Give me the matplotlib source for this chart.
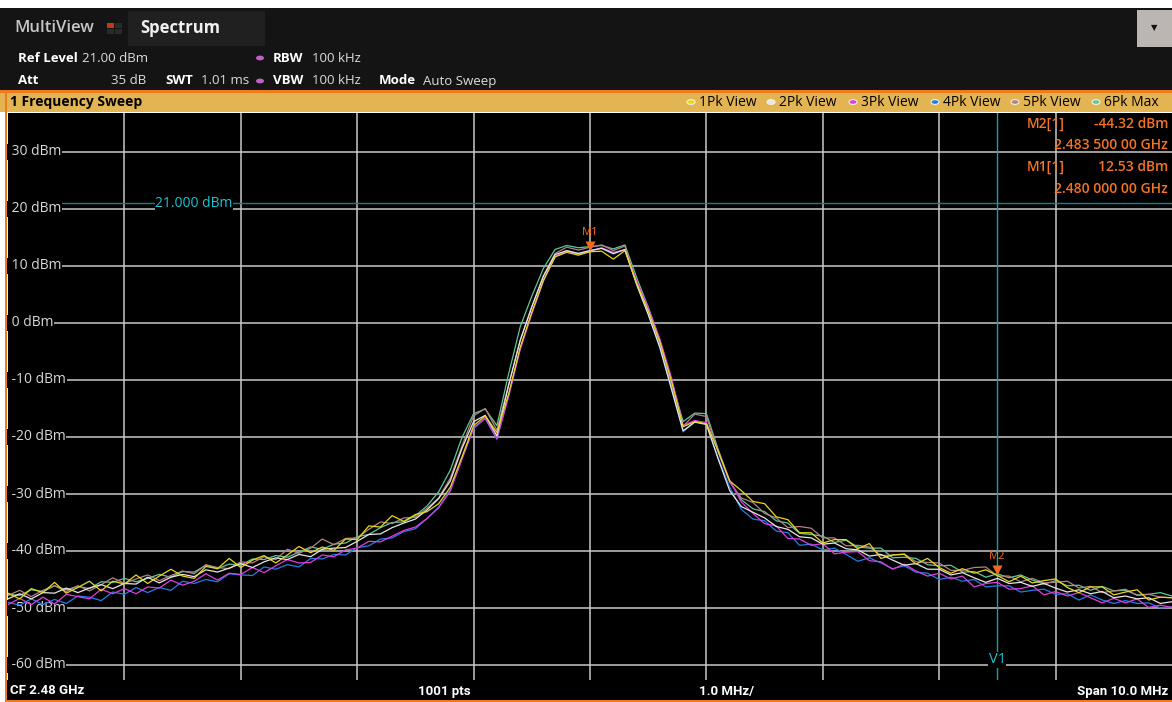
import numpy as np
import matplotlib
matplotlib.use("Agg")
import matplotlib.pyplot as plt
from matplotlib.patches import Rectangle, Circle

# --- data (0.1 MHz steps, 2.475 .. 2.485 GHz) ---
base_dbm = [
    -48.2, -48.0, -47.8, -47.6, -47.4, -47.2, -47.0, -46.7, -46.5, -46.2,
    -46.0, -45.7, -45.4, -45.1, -44.8, -44.5, -44.2, -43.8, -43.5, -43.1,
    -42.8, -42.5, -42.1, -41.7, -41.3, -40.9, -40.5, -40.1, -39.6, -39.1,
    -38.5, -37.7, -36.8, -36.2, -35.6, -34.8, -33.4, -31.2, -28.0, -22.5,
    -17.5, -16.0, -19.8, -11.5, -3.5, 2.5, 8.0, 12.0, 13.0, 12.4,
    12.8, 13.1, 12.0, 13.0, 6.8, 1.8, -3.8, -11.0, -18.5, -16.9,
    -17.2, -23.0, -28.5, -31.6, -32.8, -34.0, -35.2, -36.3, -37.2, -37.9,
    -38.4, -38.9, -39.4, -39.9, -40.4, -41.0, -41.5, -41.9, -42.4, -42.9,
    -43.3, -43.7, -44.1, -44.5, -44.8, -45.0, -45.3, -45.6, -45.9, -46.1,
    -46.3, -46.6, -46.9, -47.1, -47.4, -47.7, -47.9, -48.1, -48.4, -48.6,
    -48.8]

dev_1pk = [
    0.8, -0.4, 1.2, 0.3, 1.9, -0.2, 0.6, 1.4, -0.5, 0.9,
    0.2, 1.5, -0.3, 0.7, 1.6, 0.1, -0.6, 1.1, 0.4, 1.8,
    -0.1, 0.9, 1.3, -0.4, 0.6, 1.7, 0.2, 0.8, -0.3, 1.2,
    0.5, 2.1, 1.0, 2.4, 0.8, 1.2, 0.3, -0.5, -0.8, -1.0,
    -0.5, -0.3, 0.6, -1.0, -0.8, -0.6, -0.5, -0.4, -0.6, -0.5,
    -0.3, -0.5, -0.8, -0.3, 0.2, 0.4, 0.5, 0.8, 0.3, -0.4,
    -0.5, 0.6, 0.8, 2.2, 1.5, 2.3, 1.2, 1.8, 0.4, 1.1,
    -0.2, 0.9, 1.4, 0.3, 1.7, -0.3, 0.8, 1.3, 0.1, 1.6,
    0.4, -0.2, 1.0, 0.6, 1.5, 0.7, -0.1, 1.2, 0.3, 0.9,
    1.4, 0.2, -0.4, 0.8, 1.1, 0.0, 0.7, 1.3, -0.2, 0.5,
    0.6]
dev_2pk = [
    -0.2, 0.5, -0.6, 0.3, 0.0, 0.7, -0.3, 0.2, 0.6, -0.4,
    0.3, -0.1, 0.8, -0.5, 0.2, 0.4, -0.3, 0.5, -0.2, 0.1,
    0.6, -0.4, 0.2, 0.5, -0.2, 0.3, -0.5, 0.4, 0.1, -0.3,
    0.2, 0.6, -0.2, 0.3, 0.5, 0.4, 0.6, 0.4, 0.3, 0.5,
    0.2, -0.2, 0.0, 0.5, 0.4, 0.3, 0.2, 0.0, -0.3, -0.2,
    -0.1, 0.0, 0.2, -0.1, 0.0, -0.3, -0.5, -0.6, -0.4, -0.5,
    -0.6, -0.8, -0.9, -0.6, -0.4, -0.2, -0.5, 0.1, -0.3, 0.2,
    -0.4, 0.3, -0.2, 0.1, -0.5, 0.4, -0.1, -0.6, 0.2, -0.3,
    0.1, -0.5, 0.3, -0.2, -0.7, 0.2, -0.4, 0.1, -0.3, 0.4,
    -0.2, -0.6, 0.1, -0.4, 0.3, -0.5, 0.0, -0.3, 0.2, -0.6,
    -0.1]
dev_3pk = [
    -1.2, -0.3, -1.6, -0.5, -1.9, -0.4, -1.0, -1.7, -0.2, -1.3,
    -0.6, -1.8, -0.9, -1.4, -0.3, -1.5, -1.1, -0.2, -1.6, -0.8,
    -1.3, -0.4, -1.7, -0.9, -0.2, -1.2, -1.5, -0.6, -1.4, -0.7,
    -1.0, -0.6, -1.6, -1.2, -0.8, -1.0, -0.9, -1.2, -1.5, -1.4,
    -0.9, -0.6, -0.5, -1.5, -1.2, -0.9, -0.6, -0.3, -0.4, -0.3,
    -0.2, 0.1, 0.4, -0.2, 0.6, 0.9, 1.0, 1.4, 0.5, -0.2,
    -0.3, 0.6, 0.9, 0.2, -0.6, -1.2, -0.4, -1.5, -0.7, -1.1,
    -0.3, -1.6, -0.8, -0.2, -1.3, -0.9, -1.7, -0.4, -1.1, -1.5,
    -0.6, -1.2, -0.3, -1.8, -0.9, -0.5, -1.4, -1.0, -0.2, -1.6,
    -0.8, -1.3, -0.4, -1.1, -1.7, -0.6, -1.2, -0.3, -1.5, -0.9,
    -1.1]
dev_4pk = [
    -0.8, -1.5, -0.6, -1.8, -1.1, -2.0, -0.9, -1.4, -2.2, -1.0,
    -1.6, -0.7, -1.9, -1.3, -2.1, -0.8, -1.5, -1.2, -1.9, -0.9,
    -1.4, -1.8, -0.7, -1.5, -1.1, -1.9, -0.8, -1.3, -1.0, -1.6,
    -0.9, -1.4, -1.1, -1.5, -1.0, -1.3, -0.9, -1.1, -1.2, -1.3,
    -1.0, -0.8, -0.6, -1.2, -1.0, -0.8, -0.6, -0.4, -0.3, -0.2,
    -0.1, 0.0, 0.1, -0.1, 0.0, -0.2, -0.4, -0.5, -0.6, -0.4,
    -0.5, -0.6, -0.3, -1.1, -1.6, -0.7, -1.3, -0.5, -1.8, -0.9,
    -1.4, -0.6, -1.2, -1.9, -0.8, -1.1, -1.6, -0.7, -1.3, -1.0,
    -1.7, -0.9, -1.2, -0.5, -1.5, -1.1, -0.8, -1.6, -1.0, -0.6,
    -1.3, -0.9, -1.7, -0.6, -1.2, -1.5, -0.8, -1.1, -0.7, -1.4,
    -1.0]
dev_5pk = [
    0.4, 1.1, -0.2, 0.7, 1.3, 0.1, 0.9, -0.3, 0.6, 1.5,
    0.3, 0.8, 1.2, -0.1, 0.5, 1.0, 0.2, 1.4, 0.6, 0.0,
    0.9, 0.4, 1.1, 0.2, 1.6, 0.5, 1.0, 2.2, 0.7, 1.3,
    0.8, 1.5, 1.9, 1.0, 1.4, 0.7, 0.9, 0.5, 0.8, 0.9,
    1.2, 1.0, 1.0, 0.6, 0.5, 0.4, 0.3, 0.2, 0.3, 0.4,
    0.5, 0.6, 0.7, 0.5, 0.3, 0.2, 0.1, 0.0, 0.4, 0.9,
    0.8, 0.4, 0.6, 0.9, 1.3, 0.6, 1.0, 0.4, 1.5, 1.9,
    0.7, 1.2, 0.3, 0.9, 1.1, 0.2, 0.8, 1.4, 0.5, 0.9,
    1.2, 0.3, 0.7, 1.6, 2.0, 0.6, 0.9, 0.2, 1.1, 0.5,
    0.8, 1.3, 0.4, 0.9, 0.1, 0.7, 1.2, 0.3, 0.8, 0.5,
    0.6]
dev_6pk = [
    0.6, 0.2, 1.0, 0.5, 1.3, 0.4, 0.8, 0.1, 1.1, 0.7,
    1.2, 0.3, 0.6, 1.0, 0.2, 0.9, 0.5, 1.3, 0.4, 0.8,
    0.3, 1.1, 0.6, 0.9, 0.2, 0.7, 1.2, 0.4, 0.8, 0.5,
    1.0, 0.6, 0.9, 1.2, 0.7, 1.0, 1.3, 1.6, 2.2, 2.4,
    1.6, 0.9, 1.8, 2.5, 2.8, 2.2, 1.6, 0.9, 0.6, 0.8,
    0.6, 0.5, 1.0, 0.7, 1.2, 1.0, 0.8, 0.9, 1.2, 1.1,
    1.3, 0.9, 0.7, 0.6, 0.2, 0.9, 0.5, 1.2, 0.3, 0.8,
    1.0, 0.4, 1.3, 0.6, 0.9, 1.5, 0.3, 0.8, 1.1, 0.5,
    0.7, 1.2, 0.4, 0.9, 0.2, 1.0, 0.6, 1.4, 0.8, 0.3,
    1.1, 0.5, 0.9, 0.2, 1.2, 0.7, 1.0, 0.4, 0.8, 1.3,
    0.9]

trace_names = ["1Pk View", "2Pk View", "3Pk View", "4Pk View", "5Pk View", "6Pk Max"]
trace_devs = [dev_1pk, dev_2pk, dev_3pk, dev_4pk, dev_5pk, dev_6pk]
trace_colors = ["#e8d81c", "#e6e6e6", "#e23ce0", "#1f7fe8", "#b48282", "#5cc898"]

ref_level = 21.0
marker_names = ["M1", "M2"]
marker_freq = [2.480, 2.4835]
marker_dbm = [12.53, -44.32]
v1_freq = 2.4835
ytick_vals = [30, 20, 10, 0, -10, -20, -30, -40, -50, -60]

W, H = 1172, 702
freqs = np.linspace(2.475, 2.485, len(base_dbm))

fig = plt.figure(figsize=(W / 100, H / 100), dpi=100)
fig.patch.set_facecolor("white")
ui = ["Open Sans", "DejaVu Sans"]


def px(x, y):
    return x / W, 1 - y / H


def box(x0, y0, x1, y1, color, z=0):
    fig.patches.append(Rectangle(px(x0, y1), (x1 - x0) / W, (y1 - y0) / H,
                                 transform=fig.transFigure, facecolor=color,
                                 edgecolor="none", zorder=z))


def txt(x, y, s, **kw):
    kw.setdefault("family", ui)
    kw.setdefault("va", "center")
    fig.text(*px(x, y), s, **kw)


# header
box(0, 8, W, 92, "#141414")
box(128, 11, 265, 46, "#202020", 1)
box(1137, 10, 1172, 47, "#bcb6b3", 1)
txt(1154, 29, "\u25bc", color="#111111", fontsize=6, ha="center")
txt(14, 28, "MultiView", color="#c6c6c6", fontsize=12, weight="semibold")
box(107, 23, 114, 28, "#c8361a", 2)
box(115, 23, 122, 28, "#2a2a2a", 2)
box(107, 29, 114, 34, "#2a2a2a", 2)
box(115, 29, 122, 34, "#2a2a2a", 2)
txt(140, 28, "Spectrum", color="#f0f0f0", fontsize=12, weight="bold")

hdr = 9.5
txt(18, 58, "Ref Level", color="white", fontsize=hdr, weight="bold")
txt(82, 58, "21.00 dBm", color="#dddddd", fontsize=hdr)
txt(18, 81, "Att", color="white", fontsize=hdr, weight="bold")
txt(146, 81, "35 dB", color="#dddddd", fontsize=hdr, ha="right")
txt(165, 81, "SWT", color="white", fontsize=hdr, weight="bold")
txt(201, 81, "1.01 ms", color="#dddddd", fontsize=hdr)
for yy, lab in [(58, "RBW"), (81, "VBW")]:
    fig.patches.append(Circle(px(260, yy), 4 / W, transform=fig.transFigure,
                              facecolor="#c060c8", edgecolor="none", zorder=2))
    txt(273, yy, lab, color="white", fontsize=hdr, weight="bold")
    txt(312, yy, "100 kHz", color="#dddddd", fontsize=hdr)
txt(379, 81, "Mode", color="white", fontsize=hdr, weight="bold")
txt(423, 81, "Auto Sweep", color="#dddddd", fontsize=hdr)

# title bar with legend
box(0, 90, W, 93, "#f07a1e", 1)
box(0, 93, W, 112, "#e3b552", 1)
box(5, 90, 7, H, "#f07a1e", 3)
txt(10, 102, "1 Frequency Sweep", color="black", fontsize=10, weight="bold")
leg_x = [691, 771, 853, 935, 1015, 1096]
for lx, name, col in zip(leg_x, trace_names, trace_colors):
    fig.patches.append(Circle(px(lx, 102), 4 / W, transform=fig.transFigure,
                              facecolor=col, edgecolor="#f5f0e0", lw=0.8, zorder=2))
    txt(lx + 8, 102, name, color="black", fontsize=10)

# bottom bar
box(7, 680, W, H, "black", 1)
box(7, 700, W, H, "#f07a1e", 2)
bot = dict(color="white", fontsize=9.5, weight="bold", family=["Roboto", "DejaVu Sans"])
txt(10, 691, "CF 2.48 GHz", **bot)
txt(444, 691, "1001 pts", ha="center", **bot)
txt(727, 691, "1.0 MHz/", ha="center", **bot)
txt(1168, 691, "Span 10.0 MHz", ha="right", **bot)

# plot area
ax = fig.add_axes([8 / W, (H - 680) / H, (W - 8) / W, (680 - 113) / H])
ax.set_facecolor("black")
ax.set_xlim(2.475, 2.485)
ax.set_ylim((323 - 680) / 5.7, (323 - 113) / 5.7)
for s in ax.spines.values():
    s.set_visible(False)
ax.set_xticks([])
ax.set_yticks([])

for k in range(1, 10):
    ax.axvline(2.475 + k * 0.001, color="#c8c8c8", lw=1.1, zorder=1)
for v in ytick_vals:
    ax.axhline(v, color="#c8c8c8", lw=1.1, zorder=1)
    ax.text(2.475, v, f" {v} dBm", color="#d8d8d8", fontsize=10, family=ui,
            va="center", ha="left", zorder=2,
            bbox=dict(facecolor="black", edgecolor="none", pad=0.5))

ax.axhline(ref_level, color="#11828c", lw=1.0, zorder=1.5)
ax.text(2.476265, ref_level, "21.000 dBm", color="#1cc4d4", fontsize=10, family=ui,
        va="center", ha="left", zorder=2,
        bbox=dict(facecolor="black", edgecolor="none", pad=0.5))
ax.axvline(v1_freq, color="#11a0ac", lw=1.0, zorder=1.5)
ax.text(v1_freq, -59.1, "V1", color="#1cc4d4", fontsize=10.5, family=ui,
        va="center", ha="center", zorder=2,
        bbox=dict(facecolor="black", edgecolor="none", pad=0.3))

# traces (yellow on top)
for name, dev, col in reversed(list(zip(trace_names, trace_devs, trace_colors))):
    lvl = np.array(base_dbm) + np.array(dev)
    ax.plot(freqs, lvl, color=col, lw=0.9, zorder=3, label=name)

# markers
for mname, mf, md in zip(marker_names, marker_freq, marker_dbm):
    ax.plot(mf, md + 1.0, marker="v", color="#f06a1e", ms=7, mec="none", zorder=5)
    ax.text(mf, md + 3.4, mname, color="#f06a1e", fontsize=8, family=ui,
            ha="center", va="center", zorder=5)

# marker table
orange = "#f47424"
rows = [(124, "M2[1]", "-44.32 dBm"), (145, None, "2.483 500 00 GHz"),
        (167, "M1[1]", "12.53 dBm"), (189, None, "2.480 000 00 GHz")]
for yy, left, right in rows:
    if left:
        txt(1027, yy, left, color=orange, fontsize=10, weight="semibold", zorder=6)
    txt(1168, yy, right, color=orange, fontsize=10, weight="semibold", ha="right", zorder=6)

fig.savefig("out.png", dpi=100, facecolor=fig.get_facecolor())
